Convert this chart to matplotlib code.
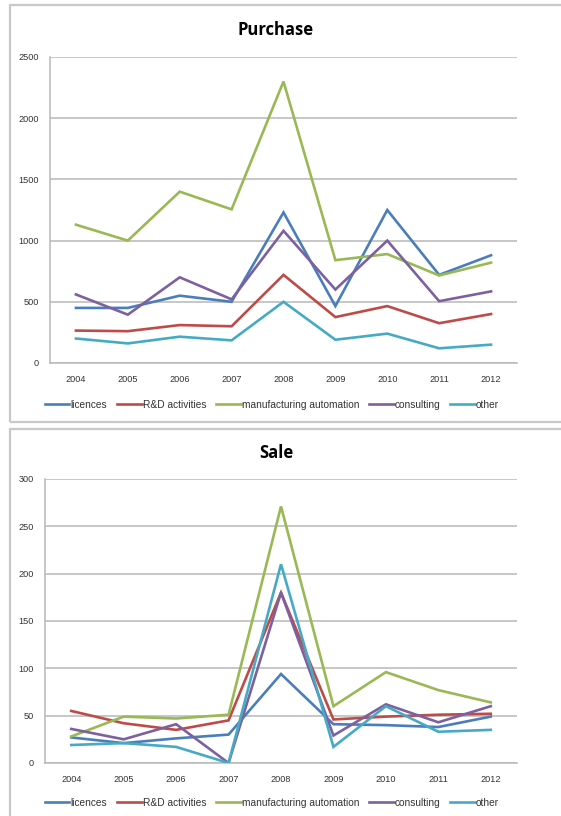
import matplotlib
matplotlib.use("Agg")

import matplotlib.pyplot as plt
from matplotlib.patches import Rectangle

years = ["2004", "2005", "2006", "2007", "2008", "2009", "2010", "2011", "2012"]
names = ["licences", "R&D activities", "manufacturing automation", "consulting", "other"]
cols = ["#4a7ebb", "#be4b48", "#98b954", "#7d60a0", "#46aac5"]

# purchase values
p_lic = [450, 450, 550, 500, 1230, 465, 1250, 720, 880]
p_rd = [265, 260, 310, 300, 720, 375, 465, 325, 400]
p_man = [1130, 1000, 1400, 1255, 2300, 840, 890, 715, 820]
p_con = [560, 395, 700, 520, 1080, 600, 1000, 505, 585]
p_oth = [200, 160, 215, 185, 500, 190, 240, 120, 150]

# sale values
s_lic = [27, 21, 26, 30, 94, 41, 40, 38, 49]
s_rd = [55, 42, 35, 45, 180, 46, 49, 51, 52]
s_man = [28, 49, 47, 51, 271, 60, 96, 77, 64]
s_con = [36, 25, 41, 0, 180, 29, 62, 43, 60]
s_oth = [19, 21, 17, 0, 210, 17, 60, 33, 35]

plt.rcParams["font.family"] = ["Liberation Sans", "DejaVu Sans"]

W, H = 561, 816
fig = plt.figure(figsize=(W / 100, H / 100), dpi=100)
fig.patch.set_facecolor("white")

# panel frames
for y0, y1 in [(5, 422), (429, 830)]:
    fig.patches.append(Rectangle((10 / W, 1 - y1 / H), 1.0, (y1 - y0) / H,
                                 transform=fig.transFigure, fill=False,
                                 edgecolor="#c8c8c8", lw=1.6, zorder=0))


def panel(rect, series, ymax, step, title, ty, ly):
    ax = fig.add_axes(rect)
    x = range(len(years))
    hs = []
    for v, c in zip(series, cols):
        h, = ax.plot(x, v, color=c, lw=1.9, solid_joinstyle="miter", zorder=3)
        hs.append(h)
    ax.set_xlim(-0.5, len(years) - 0.5)
    ax.set_ylim(0, ymax)
    ax.set_yticks(range(0, ymax + 1, step))
    ax.set_xticks(list(x))
    ax.set_xticklabels(years)
    ax.tick_params(axis="both", length=0, labelsize=6.6, colors="#333333")
    ax.tick_params(axis="y", pad=8)
    ax.tick_params(axis="x", pad=9)
    ax.grid(axis="y", color="#b8b8b8", lw=1.1)
    ax.set_axisbelow(True)
    for s in ["top", "right"]:
        ax.spines[s].set_visible(False)
    for s in ["left", "bottom"]:
        ax.spines[s].set_color("#b8b8b8")
        ax.spines[s].set_linewidth(1.1)
    fig.text(276 / W, 1 - ty / H, title, ha="center", va="center",
             fontsize=12, fontweight="bold", family=["Open Sans", "DejaVu Sans"])
    fig.legend(hs, names, loc="center", bbox_to_anchor=(272 / W, 1 - ly / H),
               ncol=5, frameon=False, fontsize=7.3, handlelength=2.4,
               handletextpad=0.1, columnspacing=1.0, labelcolor="#333333")
    return ax


panel([50 / W, 1 - 363 / H, 467 / W, 306 / H],
      [p_lic, p_rd, p_man, p_con, p_oth], 2500, 500, "Purchase", 30, 405)
panel([45 / W, 1 - 763 / H, 472 / W, 284 / H],
      [s_lic, s_rd, s_man, s_con, s_oth], 300, 50, "Sale", 453, 803)

fig.savefig("out.png", dpi=100)
